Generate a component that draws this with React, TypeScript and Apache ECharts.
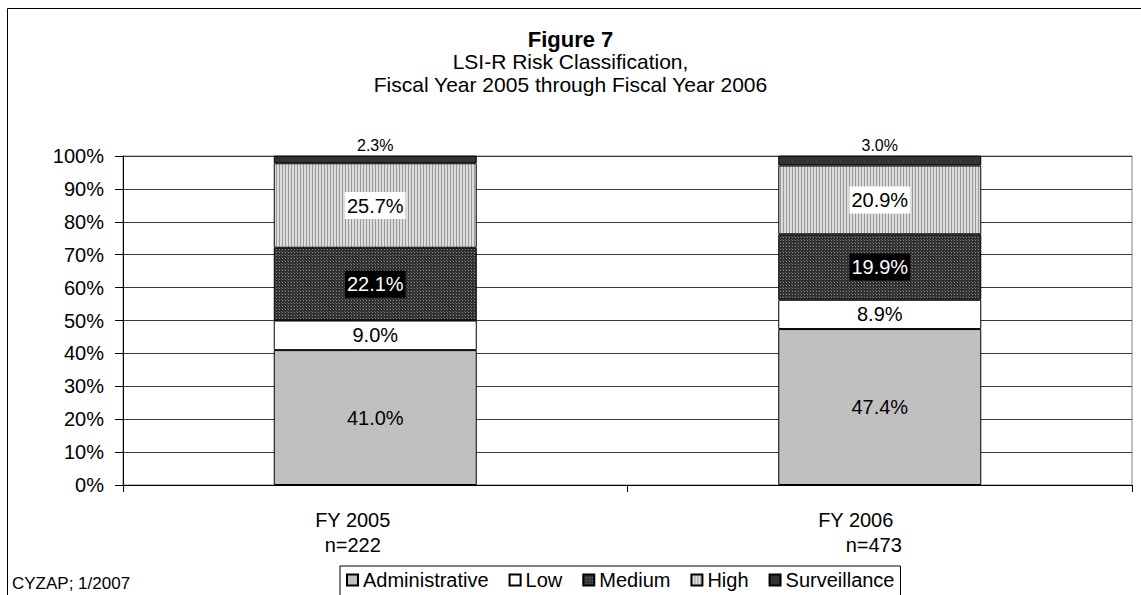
import React, { useEffect, useRef } from "react";
import * as echarts from "echarts";

const categories = ["FY 2005\nn=222", "FY 2006\nn=473"];
const seriesNames = ["Administrative", "Low", "Medium", "High", "Surveillance"];
const administrative = [41.0, 47.4];
const low = [9.0, 8.9];
const medium = [22.1, 19.9];
const high = [25.7, 20.9];
const surveillance = [2.3, 3.0];
const yTicks = [0, 10, 20, 30, 40, 50, 60, 70, 80, 90, 100];

function makePattern(w: number, h: number, draw: (ctx: CanvasRenderingContext2D) => void) {
  const c = document.createElement("canvas");
  c.width = w;
  c.height = h;
  const ctx = c.getContext("2d")!;
  draw(ctx);
  return c;
}

export default function App() {
  const ref = useRef<HTMLDivElement>(null);
  useEffect(() => {
    document.body.style.margin = "0";
    const chart = echarts.init(ref.current!, null, { renderer: "svg" });
    const font = "'Liberation Sans', Arial, sans-serif";

    const mediumPat = makePattern(3, 3, (ctx) => {
      ctx.fillStyle = "#2e2e2e";
      ctx.fillRect(0, 0, 3, 3);
      ctx.fillStyle = "#8a8a8a";
      ctx.fillRect(0, 0, 1, 1);
      ctx.fillStyle = "#5a5a5a";
      ctx.fillRect(2, 2, 1, 1);
    });
    const highPat = makePattern(3, 3, (ctx) => {
      ctx.fillStyle = "#dcdcdc";
      ctx.fillRect(0, 0, 3, 3);
      ctx.fillStyle = "#9a9a9a";
      ctx.fillRect(0, 0, 1, 3);
    });

    const base = {
      type: "bar",
      stack: "total",
      barWidth: 203,
      itemStyle: { borderColor: "#000", borderWidth: 1 },
      emphasis: { disabled: true },
    };
    const fmt = (p: any) => p.value.toFixed(1) + "%";

    const option: any = {
      animation: false,
      backgroundColor: "#fff",
      title: {
        text: "Figure 7",
        subtext: "LSI-R Risk Classification,\nFiscal Year 2005 through Fiscal Year 2006",
        left: "center",
        top: 23,
        itemGap: 0,
        textStyle: { fontFamily: font, fontSize: 22, fontWeight: "bold", color: "#000" },
        subtextStyle: { fontFamily: font, fontSize: 21, color: "#000", lineHeight: 23, align: "center" },
      },
      grid: {
        left: 123,
        right: 9,
        top: 156,
        bottom: 110,
        show: true,
        borderColor: "#808080",
        borderWidth: 1,
        backgroundColor: "transparent",
      },
      legend: {
        left: 340,
        top: 566,
        icon: "rect",
        itemWidth: 11,
        itemHeight: 11,
        itemGap: 20,
        padding: [4, 6, 10, 6],
        borderColor: "#000",
        borderWidth: 1,
        backgroundColor: "#fff",
        textStyle: { fontFamily: font, fontSize: 20, color: "#000" },
        data: seriesNames,
        selectedMode: false,
      },
      xAxis: {
        type: "category",
        data: categories,
        axisLine: { lineStyle: { color: "#000", width: 1 } },
        axisTick: { show: true, length: 7, lineStyle: { color: "#000" } },
        axisLabel: {
          margin: 22,
          formatter: (v: string, i: number) => {
            const [a, b] = v.split("\n");
            return i === 0 ? `{a|${a}}\n{a|${b}}` : `{b|${a}}\n{c|${b}}`;
          },
          rich: {
            a: { fontFamily: font, fontSize: 20, color: "#000", lineHeight: 25, padding: [0, 45, 0, 0] },
            b: { fontFamily: font, fontSize: 20, color: "#000", lineHeight: 25, padding: [0, 48, 0, 0] },
            c: { fontFamily: font, fontSize: 20, color: "#000", lineHeight: 25, padding: [0, 12, 0, 0] },
          },
        },
      },
      yAxis: {
        type: "value",
        min: yTicks[0],
        max: yTicks[yTicks.length - 1],
        interval: 10,
        axisLine: { show: true, lineStyle: { color: "#000" } },
        axisTick: { show: true, length: 8, lineStyle: { color: "#000" } },
        splitLine: { lineStyle: { color: "#3a3a3a", width: 1 } },
        axisLabel: {
          formatter: "{value}%",
          fontFamily: font,
          fontSize: 20,
          color: "#000",
          margin: 19,
        },
      },
      series: [
        {
          ...base,
          name: seriesNames[0],
          data: administrative,
          itemStyle: { ...base.itemStyle, color: "#c0c0c0" },
          label: { show: true, position: "inside", formatter: fmt, fontFamily: font, fontSize: 20, color: "#000" },
        },
        {
          ...base,
          name: seriesNames[1],
          data: low,
          itemStyle: { ...base.itemStyle, color: "#fff" },
          label: { show: true, position: "inside", formatter: fmt, fontFamily: font, fontSize: 20, color: "#000" },
        },
        {
          ...base,
          name: seriesNames[2],
          data: medium,
          itemStyle: { ...base.itemStyle, color: { image: mediumPat, repeat: "repeat" } },
          label: {
            show: true,
            position: "inside",
            formatter: fmt,
            fontFamily: font,
            fontSize: 20,
            color: "#fff",
            backgroundColor: "#000",
            padding: [4, 2, 3, 2],
          },
        },
        {
          ...base,
          name: seriesNames[3],
          data: high,
          itemStyle: { ...base.itemStyle, color: { image: highPat, repeat: "repeat" } },
          label: {
            show: true,
            position: "inside",
            formatter: fmt,
            fontFamily: font,
            fontSize: 20,
            color: "#000",
            backgroundColor: "#fff",
            padding: [4, 2, 3, 2],
          },
        },
        {
          ...base,
          name: seriesNames[4],
          data: surveillance,
          itemStyle: { ...base.itemStyle, color: "#333333" },
          label: { show: true, position: "top", distance: 2, formatter: fmt, fontFamily: font, fontSize: 16, color: "#000" },
        },
      ],
      graphic: [
        {
          type: "rect",
          shape: { x: 7.5, y: 8.5, width: 1145, height: 600 },
          style: { fill: "none", stroke: "#000", lineWidth: 1 },
          silent: true,
        },
        {
          type: "text",
          left: 12,
          top: 575,
          style: { text: "CYZAP; 1/2007", fontFamily: font, fontSize: 17, fill: "#000" },
        },
      ],
    };
    chart.setOption(option);
    return () => chart.dispose();
  }, []);
  return <div ref={ref} style={{ width: 1141, height: 595 }} />;
}
